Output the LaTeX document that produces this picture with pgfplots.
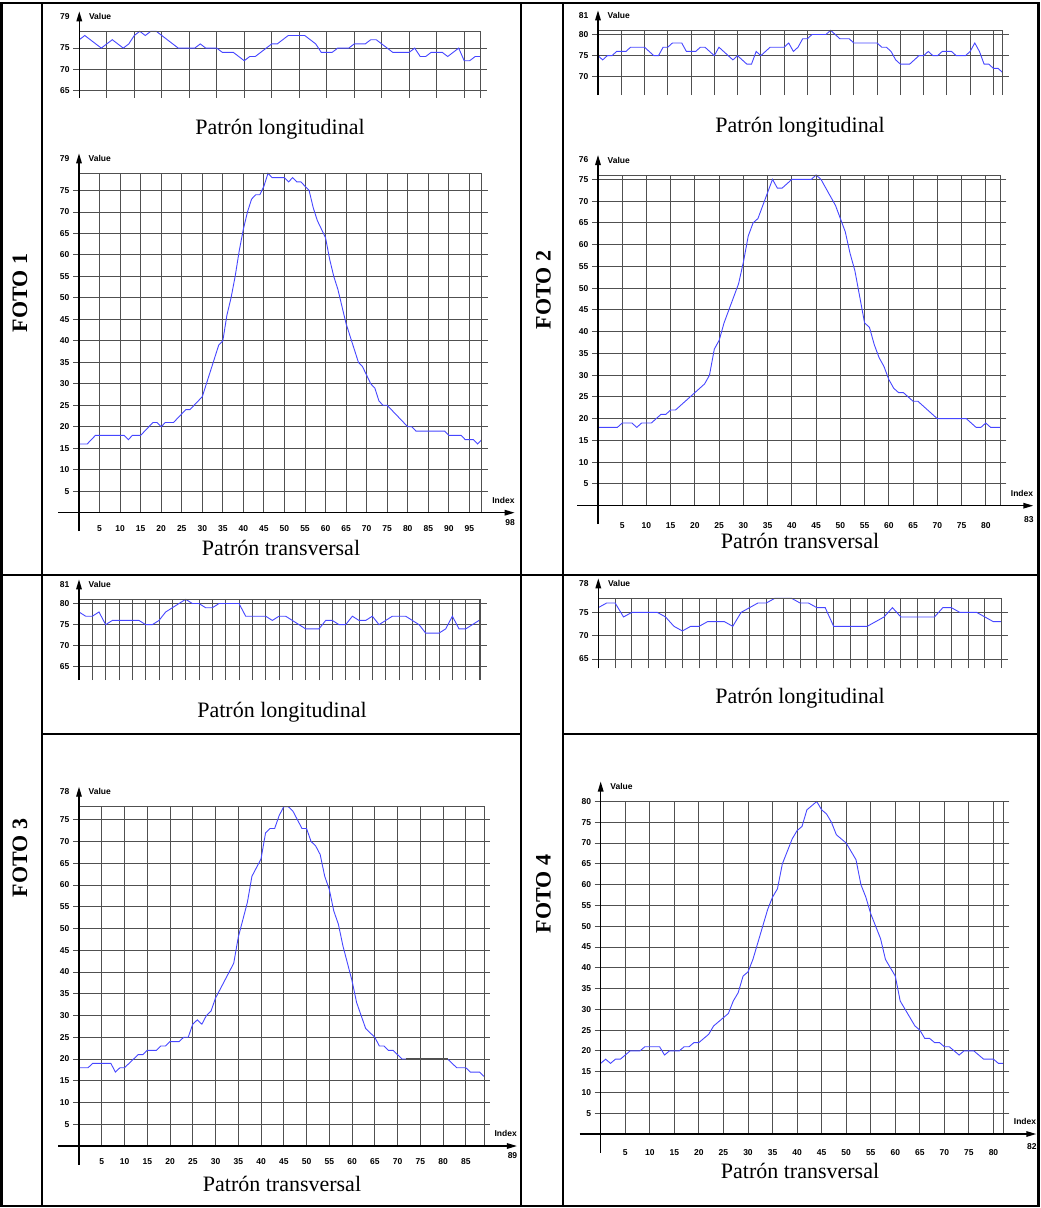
\documentclass[border=0pt]{standalone}
\usepackage{fontspec}
\setmainfont{Liberation Serif}
\newfontfamily\tickfamily{Liberation Sans}
\usepackage{pgfplots}
\pgfplotsset{compat=1.18}
\usetikzlibrary{arrows.meta}
\definecolor{gridc}{RGB}{80,80,80}
\definecolor{lineblue}{RGB}{70,70,255}
\newcommand\tickfont{\tickfamily\bfseries\fontsize{8.5}{9}\selectfont}
\newcommand\bigfont{\fontsize{22}{24}\selectfont}
\tikzset{
  yarrow/.style={black, line width=1.4pt, -{Triangle[width=5.5pt,length=10pt]}},
  gridline/.style={gridc, line width=0.9pt},
  lab/.style={font=\tickfont, inner sep=0pt},
  captxt/.style={font=\bigfont, anchor=base, inner sep=0pt},
}
\pgfplotsset{
  chart/.style={
    scale only axis, anchor=north west, clip=false,
    axis line style={draw=none},
    tick align=outside, major tick length=6pt,
    xtick style={draw=none},
    ytick style={gridc, line width=0.9pt},
    xmajorgrids, ymajorgrids,
    major grid style={gridc, line width=0.9pt},
    /pgf/number format/assume math mode=true,
    tick label style={font=\tickfont},
    yticklabel style={anchor=east, inner sep=0pt, xshift=-3.5pt},
    xticklabel style={anchor=center, inner sep=0pt},
  },
  data/.style={lineblue, line width=0.9pt, mark=none},
}
\begin{document}
\begin{tikzpicture}
\useasboundingbox (0,0) rectangle (1041pt,-1208pt);
% ---------------- FOTO 1 longitudinal
\begin{axis}[chart, at={(79.3pt,-31.3pt)}, width=401.4pt, height=66.4pt,
  xmin=0, xmax=73, ymin=63.2, ymax=79,
  xtick={5,10,...,70}, xticklabels={}, ytick={65,70,75}]
\addplot[data] coordinates {(0,77)(1,78)(2,77)(3,76)(4,75)(5,76)(6,77)(7,76)(8,75)(9,76)(10,78)(11,79)(12,78)(13,79)(14,79)(15,78)(16,77)(17,76)(18,75)(19,75)(20,75)(21,75)(22,76)(23,75)(24,75)(25,75)(26,74)(27,74)(28,74)(29,73)(30,72)(31,73)(32,73)(33,74)(34,75)(35,76)(36,76)(37,77)(38,78)(39,78)(40,78)(41,78)(42,77)(43,76)(44,74)(45,74)(46,74)(47,75)(48,75)(49,75)(50,76)(51,76)(52,76)(53,77)(54,77)(55,76)(56,75)(57,74)(58,74)(59,74)(60,74)(61,75)(62,73)(63,73)(64,74)(65,74)(66,74)(67,73)(68,74)(69,75)(70,72)(71,72)(72,73)(73,73)};
\draw[gridline] (axis cs:0,79) -- (axis cs:73,79) -- (axis cs:73,63.2);
\draw[yarrow] (axis cs:0,63.2) -- ([yshift=20pt]axis cs:0,79);
\node[lab, anchor=west] at ([xshift=9.5pt,yshift=15pt]axis cs:0,79) {Value};
\node[lab, anchor=east] at ([xshift=-9.5pt,yshift=15pt]axis cs:0,79) {79};
\end{axis}
% ---------------- FOTO 1 transversal
\begin{axis}[chart, at={(79pt,-173.3pt)}, width=402.7pt, height=339.4pt,
  xmin=0, xmax=98, ymin=0, ymax=79, xticklabel style={yshift=-9.7pt},
  xtick={5,10,...,95}, ytick={5,10,...,75}]
\addplot[data] coordinates {(0,16)(1,16)(2,16)(3,17)(4,18)(5,18)(6,18)(7,18)(8,18)(9,18)(10,18)(11,18)(12,17)(13,18)(14,18)(15,18)(16,19)(17,20)(18,21)(19,21)(20,20)(21,21)(22,21)(23,21)(24,22)(25,23)(26,24)(27,24)(28,25)(29,26)(30,27)(31,30)(32,33)(33,36)(34,39)(35,40)(36,46)(37,50)(38,55)(39,61)(40,66)(41,70)(42,73)(43,74)(44,74)(45,76)(46,79)(47,78)(48,78)(49,78)(50,78)(51,77)(52,78)(53,77)(54,77)(55,76)(56,75)(57,71)(58,68)(59,66)(60,64)(61,59)(62,55)(63,52)(64,48)(65,44)(66,41)(67,38)(68,35)(69,34)(70,32)(71,30)(72,29)(73,26)(74,25)(75,25)(76,24)(77,23)(78,22)(79,21)(80,20)(81,20)(82,19)(83,19)(84,19)(85,19)(86,19)(87,19)(88,19)(89,19)(90,18)(91,18)(92,18)(93,18)(94,17)(95,17)(96,17)(97,16)(98,17)};
\draw[gridline] (axis cs:0,79) -- (axis cs:98,79) -- (axis cs:98,0);
\draw[yarrow] ([xshift=-21pt]axis cs:0,0) -- ([xshift=33pt]axis cs:98,0);
\draw[yarrow] ([yshift=-18.5pt]axis cs:0,0) -- ([yshift=20pt]axis cs:0,79);
\node[lab, anchor=west] at ([xshift=9.5pt,yshift=15pt]axis cs:0,79) {Value};
\node[lab, anchor=east] at ([xshift=-9.5pt,yshift=15pt]axis cs:0,79) {79};
\node[lab, anchor=east] at ([xshift=33pt,yshift=12.5pt]axis cs:98,0) {Index};
\node[lab] at ([xshift=28.5pt,yshift=-9.7pt]axis cs:98,0) {98};
\end{axis}
% ---------------- FOTO 2 longitudinal
\begin{axis}[chart, at={(598pt,-30.3pt)}, width=404.7pt, height=64.7pt,
  xmin=0, xmax=87, ymin=65.7, ymax=81,
  xtick={5,10,...,85}, xticklabels={}, ytick={70,75,80}]
\addplot[data] coordinates {(0,75)(1,74)(2,75)(3,75)(4,76)(5,76)(6,76)(7,77)(8,77)(9,77)(10,77)(11,76)(12,75)(13,75)(14,77)(15,77)(16,78)(17,78)(18,78)(19,76)(20,76)(21,76)(22,77)(23,77)(24,76)(25,75)(26,77)(27,76)(28,75)(29,74)(30,75)(31,74)(32,73)(33,73)(34,76)(35,75)(36,76)(37,77)(38,77)(39,77)(40,77)(41,78)(42,76)(43,77)(44,79)(45,79)(46,80)(47,80)(48,80)(49,80)(50,81)(51,80)(52,79)(53,79)(54,79)(55,78)(56,78)(57,78)(58,78)(59,78)(60,78)(61,77)(62,77)(63,76)(64,74)(65,73)(66,73)(67,73)(68,74)(69,75)(70,75)(71,76)(72,75)(73,75)(74,76)(75,76)(76,76)(77,75)(78,75)(79,75)(80,76)(81,78)(82,76)(83,73)(84,73)(85,72)(86,72)(87,71)};
\draw[gridline] (axis cs:0,81) -- (axis cs:87,81) -- (axis cs:87,65.7);
\draw[yarrow] (axis cs:0,65.7) -- ([yshift=20pt]axis cs:0,81);
\node[lab, anchor=west] at ([xshift=9.5pt,yshift=15pt]axis cs:0,81) {Value};
\node[lab, anchor=east] at ([xshift=-9.5pt,yshift=15pt]axis cs:0,81) {81};
\end{axis}
% ---------------- FOTO 2 transversal
\begin{axis}[chart, at={(598pt,-175pt)}, width=402.3pt, height=330.7pt,
  xmin=0, xmax=83, ymin=0, ymax=76, xticklabel style={yshift=-13.5pt},
  xtick={5,10,...,80}, ytick={5,10,...,75}]
\addplot[data] coordinates {(0,18)(1,18)(2,18)(3,18)(4,18)(5,19)(6,19)(7,19)(8,18)(9,19)(10,19)(11,19)(12,20)(13,21)(14,21)(15,22)(16,22)(17,23)(18,24)(19,25)(20,26)(21,27)(22,28)(23,30)(24,36)(25,38)(26,42)(27,45)(28,48)(29,51)(30,56)(31,62)(32,65)(33,66)(34,69)(35,72)(36,75)(37,73)(38,73)(39,74)(40,75)(41,75)(42,75)(43,75)(44,75)(45,76)(46,75)(47,73)(48,71)(49,69)(50,66)(51,63)(52,58)(53,54)(54,48)(55,42)(56,41)(57,37)(58,34)(59,32)(60,29)(61,27)(62,26)(63,26)(64,25)(65,24)(66,24)(67,23)(68,22)(69,21)(70,20)(71,20)(72,20)(73,20)(74,20)(75,20)(76,20)(77,19)(78,18)(79,18)(80,19)(81,18)(82,18)(83,18)};
\draw[gridline] (axis cs:0,76) -- (axis cs:83,76) -- (axis cs:83,0);
\draw[yarrow] ([xshift=-21pt]axis cs:0,0) -- ([xshift=33pt]axis cs:83,0);
\draw[yarrow] ([yshift=-18.5pt]axis cs:0,0) -- ([yshift=20pt]axis cs:0,76);
\node[lab, anchor=west] at ([xshift=9.5pt,yshift=15pt]axis cs:0,76) {Value};
\node[lab, anchor=east] at ([xshift=-9.5pt,yshift=15pt]axis cs:0,76) {76};
\node[lab, anchor=east] at ([xshift=33pt,yshift=12.7pt]axis cs:83,0) {Index};
\node[lab] at ([xshift=28.5pt,yshift=-13.5pt]axis cs:83,0) {83};
\end{axis}
% ---------------- FOTO 3 longitudinal
\begin{axis}[chart, at={(79pt,-599.3pt)}, width=401.7pt, height=80.7pt,
  xmin=0, xmax=60.25, ymin=61.9, ymax=81,
  xtick={2,4,...,60}, xticklabels={}, ytick={65,70,75,80}]
\addplot[data] coordinates {(0,78)(1,77)(2,77)(3,78)(4,75)(5,76)(6,76)(7,76)(8,76)(9,76)(10,75)(11,75)(12,76)(13,78)(14,79)(15,80)(16,81)(17,80)(18,80)(19,79)(20,79)(21,80)(22,80)(23,80)(24,80)(25,77)(26,77)(27,77)(28,77)(29,76)(30,77)(31,77)(32,76)(33,75)(34,74)(35,74)(36,74)(37,76)(38,76)(39,75)(40,75)(41,77)(42,76)(43,76)(44,77)(45,75)(46,76)(47,77)(48,77)(49,77)(50,76)(51,75)(52,73)(53,73)(54,73)(55,74)(56,77)(57,74)(58,74)(59,75)(60,76)};
\draw[gridline] (axis cs:0,81) -- (axis cs:60.25,81) -- (axis cs:60.25,61.9);
\draw[yarrow] (axis cs:0,61.9) -- ([yshift=20pt]axis cs:0,81);
\node[lab, anchor=west] at ([xshift=9.5pt,yshift=15pt]axis cs:0,81) {Value};
\node[lab, anchor=east] at ([xshift=-9.5pt,yshift=15pt]axis cs:0,81) {81};
\end{axis}
% ---------------- FOTO 3 transversal
\begin{axis}[chart, at={(79pt,-806.7pt)}, width=405pt, height=339.3pt,
  xmin=0, xmax=89, ymin=0, ymax=78, xticklabel style={yshift=-9.7pt},
  xtick={5,10,...,85}, ytick={5,10,...,75}]
\addplot[data] coordinates {(0,18)(1,18)(2,18)(3,19)(4,19)(5,19)(6,19)(7,19)(8,17)(9,18)(10,18)(11,19)(12,20)(13,21)(14,21)(15,22)(16,22)(17,22)(18,23)(19,23)(20,24)(21,24)(22,24)(23,25)(24,25)(25,28)(26,29)(27,28)(28,30)(29,31)(30,34)(31,36)(32,38)(33,40)(34,42)(35,48)(36,52)(37,56)(38,62)(39,64)(40,66)(41,72)(42,73)(43,73)(44,76)(45,78)(46,78)(47,77)(48,75)(49,73)(50,73)(51,70)(52,69)(53,67)(54,62)(55,59)(56,54)(57,51)(58,46)(59,42)(60,38)(61,33)(62,30)(63,27)(64,26)(65,25)(66,23)(67,23)(68,22)(69,22)(70,21)(71,20)(72,20)(73,20)(74,20)(75,20)(76,20)(77,20)(78,20)(79,20)(80,20)(81,20)(82,19)(83,18)(84,18)(85,18)(86,17)(87,17)(88,17)(89,16)};
\draw[gridline] (axis cs:0,78) -- (axis cs:89,78) -- (axis cs:89,0);
\draw[gridc, line width=1.3pt] (axis cs:71.8,20) -- (axis cs:81,20);
\draw[yarrow] ([xshift=-21pt]axis cs:0,0) -- ([xshift=33pt]axis cs:89,0);
\draw[yarrow] ([yshift=-18.5pt]axis cs:0,0) -- ([yshift=20pt]axis cs:0,78);
\node[lab, anchor=west] at ([xshift=9.5pt,yshift=15pt]axis cs:0,78) {Value};
\node[lab, anchor=east] at ([xshift=-9.5pt,yshift=15pt]axis cs:0,78) {78};
\node[lab, anchor=east] at ([xshift=33pt,yshift=13pt]axis cs:89,0) {Index};
\node[lab] at ([xshift=28.5pt,yshift=-9.7pt]axis cs:89,0) {89};
\end{axis}
% ---------------- FOTO 4 longitudinal
\begin{axis}[chart, at={(598.3pt,-598.3pt)}, width=403.4pt, height=70pt,
  xmin=0, xmax=48, ymin=63, ymax=78,
  xtick={2,4,...,46}, xticklabels={}, ytick={65,70,75}]
\addplot[data] coordinates {(0,76)(1,77)(2,77)(3,74)(4,75)(5,75)(6,75)(7,75)(8,74)(9,72)(10,71)(11,72)(12,72)(13,73)(14,73)(15,73)(16,72)(17,75)(18,76)(19,77)(20,77)(21,78)(22,78)(23,78)(24,77)(25,77)(26,76)(27,76)(28,72)(29,72)(30,72)(31,72)(32,72)(33,73)(34,74)(35,76)(36,74)(37,74)(38,74)(39,74)(40,74)(41,76)(42,76)(43,75)(44,75)(45,75)(46,74)(47,73)(48,73)};
\draw[gridline] (axis cs:0,78) -- (axis cs:48,78) -- (axis cs:48,63);
\draw[yarrow] (axis cs:0,63) -- ([yshift=20pt]axis cs:0,78);
\node[lab, anchor=west] at ([xshift=9.5pt,yshift=15pt]axis cs:0,78) {Value};
\node[lab, anchor=east] at ([xshift=-9.5pt,yshift=15pt]axis cs:0,78) {78};
\end{axis}
% ---------------- FOTO 4 transversal
\begin{axis}[chart, at={(600.7pt,-801.5pt)}, width=402.6pt, height=332.5pt,
  xmin=0, xmax=82, ymin=0, ymax=80, xticklabel style={yshift=-13pt},
  xtick={5,10,...,80}, ytick={5,10,...,80}]
\addplot[data] coordinates {(0,17)(1,18)(2,17)(3,18)(4,18)(5,19)(6,20)(7,20)(8,20)(9,21)(10,21)(11,21)(12,21)(13,19)(14,20)(15,20)(16,20)(17,21)(18,21)(19,22)(20,22)(21,23)(22,24)(23,26)(24,27)(25,28)(26,29)(27,32)(28,34)(29,38)(30,39)(31,42)(32,46)(33,50)(34,54)(35,57)(36,59)(37,65)(38,68)(39,71)(40,73)(41,74)(42,78)(43,79)(44,80)(45,78)(46,77)(47,75)(48,72)(49,71)(50,70)(51,68)(52,66)(53,60)(54,57)(55,53)(56,50)(57,47)(58,42)(59,40)(60,38)(61,32)(62,30)(63,28)(64,26)(65,25)(66,23)(67,23)(68,22)(69,22)(70,21)(71,21)(72,20)(73,19)(74,20)(75,20)(76,20)(77,19)(78,18)(79,18)(80,18)(81,17)(82,17)};
\draw[gridline] (axis cs:0,80) -- (axis cs:82,80) -- (axis cs:82,0);
\draw[yarrow] ([xshift=-21pt]axis cs:0,0) -- ([xshift=33pt]axis cs:82,0);
\draw[yarrow] ([yshift=-18.5pt]axis cs:0,0) -- ([yshift=20pt]axis cs:0,80);
\node[lab, anchor=west] at ([xshift=9.5pt,yshift=15pt]axis cs:0,80) {Value};
\node[lab, anchor=east] at ([xshift=33pt,yshift=13pt]axis cs:82,0) {Index};
\node[lab] at ([xshift=28.5pt,yshift=-13pt]axis cs:82,0) {82};
\end{axis}
% ---------------- captions
\node[captxt] at (280pt,-134pt) {Patrón longitudinal};
\node[captxt] at (800pt,-132pt) {Patrón longitudinal};
\node[captxt] at (282pt,-717pt) {Patrón longitudinal};
\node[captxt] at (800pt,-703pt) {Patrón longitudinal};
\node[captxt] at (281pt,-555pt) {Patrón transversal};
\node[captxt] at (800pt,-548pt) {Patrón transversal};
\node[captxt] at (282pt,-1191pt) {Patrón transversal};
\node[captxt] at (800pt,-1178pt) {Patrón transversal};
\node[font=\bfseries\bigfont, rotate=90] at (20pt,-293pt) {FOTO 1};
\node[font=\bfseries\bigfont, rotate=90] at (543.5pt,-290pt) {FOTO 2};
\node[font=\bfseries\bigfont, rotate=90] at (20pt,-858pt) {FOTO 3};
\node[font=\bfseries\bigfont, rotate=90] at (543.5pt,-894pt) {FOTO 4};
% ---------------- table rules
\begin{scope}[line width=2.5pt]
\draw (1.25pt,-3pt) rectangle (1038.5pt,-1206pt);
\draw (42pt,-3pt) -- (42pt,-1206pt);
\draw (521pt,-3pt) -- (521pt,-1206pt);
\draw (563pt,-3pt) -- (563pt,-1206pt);
\draw (1.25pt,-575pt) -- (1038.5pt,-575pt);
\draw (42pt,-734pt) -- (521pt,-734pt);
\draw (563pt,-734pt) -- (1038.5pt,-734pt);
\end{scope}
\end{tikzpicture}
\end{document}
